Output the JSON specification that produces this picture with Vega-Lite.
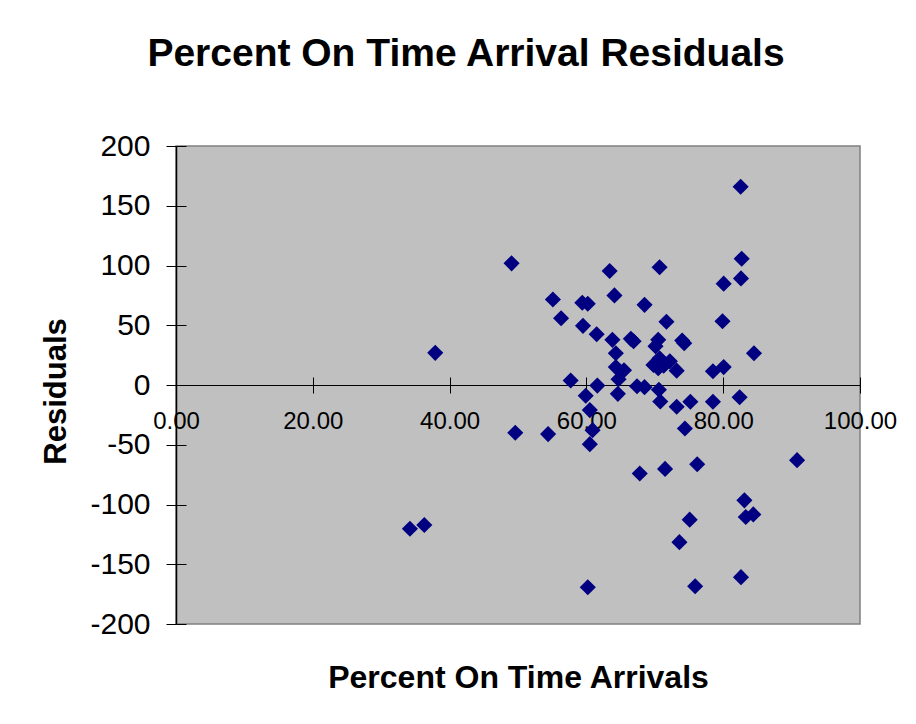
{
  "$schema": "https://vega.github.io/schema/vega-lite/v6.json",
  "width": 684,
  "height": 478,
  "autosize": "none",
  "padding": {"left": 176, "top": 146, "right": 56, "bottom": 100},
  "background": "white",
  "title": {
    "text": "Percent On Time Arrival Residuals",
    "fontSize": 39,
    "fontWeight": "bold",
    "font": "Liberation Sans",
    "color": "black",
    "anchor": "middle",
    "baseline": "alphabetic",
    "dx": -52,
    "offset": 26
  },
  "config": {
    "font": "Liberation Sans",
    "view": {"fill": "#C0C0C0", "stroke": "#808080", "strokeWidth": 1.5},
    "axis": {"grid": false, "labelColor": "black", "titleColor": "black", "domainColor": "black", "tickColor": "black"}
  },
  "data": {
    "values": [
      {"pct": 82.55, "resid": 165.9},
      {"pct": 82.7, "resid": 105.7},
      {"pct": 82.6, "resid": 89.2},
      {"pct": 49.06, "resid": 101.8},
      {"pct": 63.4, "resid": 95.4},
      {"pct": 70.7, "resid": 98.5},
      {"pct": 80.07, "resid": 84.8},
      {"pct": 64.1, "resid": 75.0},
      {"pct": 55.1, "resid": 71.6},
      {"pct": 59.4, "resid": 68.8},
      {"pct": 60.2, "resid": 68.0},
      {"pct": 68.5, "resid": 67.1},
      {"pct": 56.3, "resid": 55.9},
      {"pct": 71.7, "resid": 52.9},
      {"pct": 79.9, "resid": 53.4},
      {"pct": 59.5, "resid": 49.5},
      {"pct": 61.5, "resid": 42.5},
      {"pct": 63.8, "resid": 37.8},
      {"pct": 66.5, "resid": 38.6},
      {"pct": 66.9, "resid": 36.6},
      {"pct": 70.5, "resid": 37.8},
      {"pct": 74.0, "resid": 37.2},
      {"pct": 74.3, "resid": 35.0},
      {"pct": 70.1, "resid": 32.5},
      {"pct": 37.9, "resid": 26.9},
      {"pct": 64.3, "resid": 26.6},
      {"pct": 84.5, "resid": 26.6},
      {"pct": 70.7, "resid": 22.4},
      {"pct": 72.2, "resid": 19.8},
      {"pct": 69.8, "resid": 16.8},
      {"pct": 71.3, "resid": 16.2},
      {"pct": 70.5, "resid": 14.0},
      {"pct": 80.07, "resid": 15.0},
      {"pct": 78.5, "resid": 11.5},
      {"pct": 73.2, "resid": 12.0},
      {"pct": 64.3, "resid": 15.0},
      {"pct": 65.5, "resid": 12.3},
      {"pct": 64.7, "resid": 4.8},
      {"pct": 57.7, "resid": 3.8},
      {"pct": 61.6, "resid": -0.5},
      {"pct": 67.4, "resid": -1.0},
      {"pct": 68.5, "resid": -1.8},
      {"pct": 70.6, "resid": -4.0},
      {"pct": 64.6, "resid": -7.4},
      {"pct": 59.9, "resid": -9.0},
      {"pct": 70.8, "resid": -13.8},
      {"pct": 75.2, "resid": -14.0},
      {"pct": 78.5, "resid": -14.0},
      {"pct": 82.4, "resid": -10.2},
      {"pct": 73.2, "resid": -18.2},
      {"pct": 60.5, "resid": -21.0},
      {"pct": 74.4, "resid": -36.4},
      {"pct": 60.9, "resid": -37.8},
      {"pct": 49.6, "resid": -40.0},
      {"pct": 54.4, "resid": -41.1},
      {"pct": 60.5, "resid": -49.5},
      {"pct": 90.8, "resid": -62.9},
      {"pct": 76.2, "resid": -66.3},
      {"pct": 71.5, "resid": -70.2},
      {"pct": 67.8, "resid": -74.1},
      {"pct": 83.1, "resid": -96.5},
      {"pct": 83.3, "resid": -110.5},
      {"pct": 84.4, "resid": -108.3},
      {"pct": 75.1, "resid": -112.7},
      {"pct": 36.3, "resid": -117.2},
      {"pct": 34.2, "resid": -120.3},
      {"pct": 73.6, "resid": -131.5},
      {"pct": 82.6, "resid": -160.8},
      {"pct": 60.2, "resid": -169.2},
      {"pct": 75.9, "resid": -168.4}
    ]
  },
  "layer": [
    {
      "mark": {"type": "point", "shape": "diamond", "filled": true, "color": "#000080", "opacity": 1, "size": 260},
      "encoding": {
        "x": {
          "field": "pct", "type": "quantitative",
          "scale": {"domain": [0, 100], "nice": false, "zero": false},
          "axis": {
            "orient": "bottom", "offset": -239, "values": [0, 20, 40, 60, 80, 100], "format": ".2f",
            "labelFontSize": 24, "labelFlush": false, "labelOverlap": false, "tickSize": 8, "labelPadding": 16,
            "domainWidth": 1, "tickWidth": 1,
            "title": "Percent On Time Arrivals", "titleFontSize": 32, "titleFontWeight": "bold",
            "titleBaseline": "alphabetic", "titleY": 302
          }
        },
        "y": {
          "field": "resid", "type": "quantitative",
          "scale": {"domain": [-200, 200], "nice": false, "zero": false},
          "axis": {
            "orient": "left", "values": [-200, -150, -100, -50, 0, 50, 100, 150, 200],
            "labelExpr": "datum.value + ''",
            "labelFontSize": 30, "labelFlush": false, "labelOverlap": false, "tickSize": 10, "labelPadding": 16,
            "domainWidth": 1.5, "tickWidth": 1,
            "title": "Residuals", "titleFontSize": 31, "titleFontWeight": "bold",
            "titleBaseline": "alphabetic", "titleX": -111, "titleY": 245
          }
        }
      }
    },
    {
      "mark": {"type": "point", "shape": "diamond", "filled": true, "opacity": 0, "size": 10},
      "encoding": {
        "x": {
          "field": "pct", "type": "quantitative",
          "scale": {"domain": [0, 100], "nice": false, "zero": false},
          "axis": {"orient": "top", "offset": -239, "values": [0, 20, 40, 60, 80, 100], "labels": false, "domain": false, "tickSize": 8, "tickWidth": 1, "title": null}
        },
        "y": {
          "field": "resid", "type": "quantitative",
          "scale": {"domain": [-200, 200], "nice": false, "zero": false},
          "axis": {"orient": "right", "offset": -684, "values": [-200, -150, -100, -50, 0, 50, 100, 150, 200], "labels": false, "domain": false, "tickSize": 10, "tickWidth": 1, "title": null}
        }
      }
    }
  ],
  "resolve": {"axis": {"x": "independent", "y": "independent"}}
}
